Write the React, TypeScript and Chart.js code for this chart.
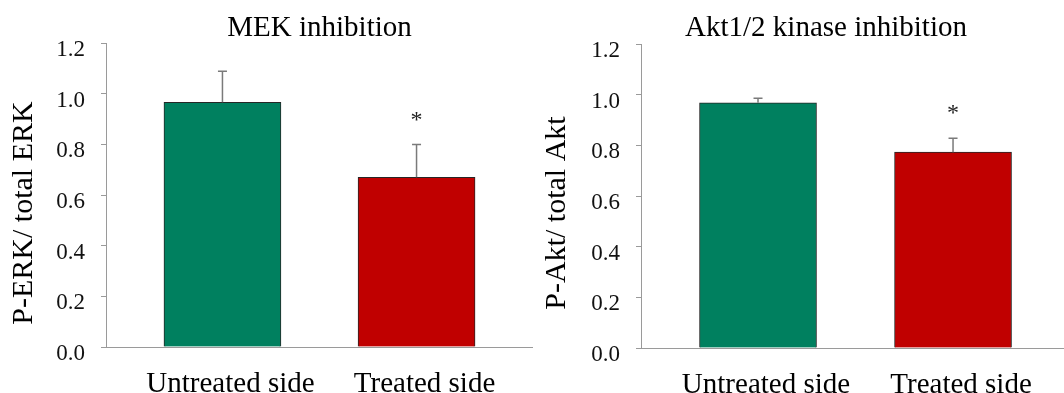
import React, { useEffect, useRef } from "react";
import { Chart, registerables } from "chart.js";

Chart.register(...registerables);

// ---------- data ----------
const categories = ["Untreated side", "Treated side"];
const yTicks = [0, 0.2, 0.4, 0.6, 0.8, 1.0, 1.2];
const barColors = ["#00805F", "#C00000"];

const mekTitle = "MEK inhibition";
const mekYTitle = "P-ERK/ total ERK";
const mekValues = [0.966, 0.67];
const mekErrors = [0.122, 0.129];
const mekSignificant = [false, true];

const aktTitle = "Akt1/2 kinase inhibition";
const aktYTitle = "P-Akt/ total Akt";
const aktValues = [0.968, 0.773];
const aktErrors = [0.018, 0.055];
const aktSignificant = [false, true];

const FONT = '"Liberation Serif", "Times New Roman", serif';

type PanelProps = {
  left: number;
  width: number;
  title: string;
  titleX: number;
  yTitle: string;
  values: number[];
  errors: number[];
  significant: boolean[];
  xMax: number;
  yAxisWidth: number;
  xAxisHeight: number;
  padTop: number;
};

function Panel(p: PanelProps) {
  const ref = useRef<HTMLCanvasElement | null>(null);

  useEffect(() => {
    const canvas = ref.current;
    if (!canvas) return;

    const decorate = {
      id: "decorate" + p.left,
      afterDatasetsDraw(chart: any) {
        const { ctx } = chart;
        const xs = chart.scales.x;
        const ys = chart.scales.y;
        p.values.forEach((v, i) => {
          const px = xs.getPixelForValue(i);
          const top = ys.getPixelForValue(v);
          const et = ys.getPixelForValue(v + p.errors[i]);
          ctx.save();
          ctx.strokeStyle = "#7a7a7a";
          ctx.lineWidth = 1.5;
          ctx.beginPath();
          ctx.moveTo(px, top);
          ctx.lineTo(px, et);
          ctx.moveTo(px - 4.5, et);
          ctx.lineTo(px + 4.5, et);
          ctx.stroke();
          if (p.significant[i]) {
            ctx.font = `24px ${FONT}`;
            ctx.textAlign = "center";
            ctx.textBaseline = "alphabetic";
            ctx.fillStyle = "#222";
            ctx.fillText("*", px, et - 30 + 12);
          }
          ctx.restore();
        });
      },
      afterDraw(chart: any) {
        const { ctx } = chart;
        ctx.save();
        ctx.fillStyle = "#000";
        ctx.font = `29px ${FONT}`;
        ctx.textAlign = "center";
        ctx.textBaseline = "alphabetic";
        ctx.fillText(p.title, p.titleX, 35.5);
        ctx.translate(24, 213);
        ctx.rotate(-Math.PI / 2);
        ctx.font = `30px ${FONT}`;
        ctx.textBaseline = "middle";
        ctx.fillText(p.yTitle, 0, 0);
        ctx.restore();
      },
    };

    const chart = new Chart(canvas, {
      type: "bar",
      data: {
        datasets: [
          {
            data: p.values.map((v, i) => ({ x: i, y: v })),
            backgroundColor: barColors,
            borderColor: "#262626",
            borderWidth: 1,
            barThickness: 117,
          },
        ],
      },
      options: {
        responsive: false,
        animation: false,
        devicePixelRatio: 1,
        events: [],
        layout: { padding: { top: p.padTop, left: 0, right: 0, bottom: 0 } },
        plugins: {
          legend: { display: false },
          tooltip: { enabled: false },
          title: { display: false },
        },
        scales: {
          x: {
            type: "linear",
            min: -0.6,
            max: p.xMax,
            offset: false,
            grid: { display: false },
            border: { display: true, color: "#9a9a9a", width: 1 },
            afterBuildTicks: (s: any) => {
              s.ticks = categories.map((_, i) => ({ value: i }));
            },
            afterFit: (s: any) => {
              s.height = p.xAxisHeight;
            },
            ticks: {
              autoSkip: false,
              maxRotation: 0,
              minRotation: 0,
              padding: 12,
              labelOffset: 8,
              color: "#000",
              font: { family: FONT, size: 29 },
              callback: (v: any) => categories[Math.round(Number(v))] ?? "",
            },
          },
          y: {
            type: "linear",
            min: 0,
            max: 1.2,
            grid: {
              display: true,
              drawOnChartArea: false,
              drawTicks: true,
              tickLength: 5,
              color: "#9a9a9a",
              lineWidth: 1,
            },
            border: { display: true, color: "#9a9a9a", width: 1 },
            afterBuildTicks: (s: any) => {
              s.ticks = yTicks.map((v) => ({ value: v }));
            },
            afterFit: (s: any) => {
              s.width = p.yAxisWidth;
            },
            ticks: {
              padding: 16,
              labelOffset: 7,
              color: "#111",
              font: { family: FONT, size: 23 },
              callback: (v: any) => Number(v).toFixed(1),
            },
          },
        },
      },
      plugins: [decorate],
    } as any);

    return () => chart.destroy();
  }, []);

  return (
    <canvas
      ref={ref}
      width={p.width}
      height={393}
      style={{ position: "absolute", left: p.left, top: 0, width: p.width, height: 393 }}
    />
  );
}

export default function App() {
  return (
    <div
      style={{
        position: "fixed",
        left: 0,
        top: 0,
        width: 1064,
        height: 393,
        background: "#fff",
        overflow: "hidden",
      }}
    >
      <Panel
        left={0}
        width={533}
        title={mekTitle}
        titleX={319.5}
        yTitle={mekYTitle}
        values={mekValues}
        errors={mekErrors}
        significant={mekSignificant}
        xMax={1.6}
        yAxisWidth={106}
        xAxisHeight={46}
        padTop={43}
      />
      <Panel
        left={533}
        width={531}
        title={aktTitle}
        titleX={293}
        yTitle={aktYTitle}
        values={aktValues}
        errors={aktErrors}
        significant={aktSignificant}
        xMax={1.569}
        yAxisWidth={108}
        xAxisHeight={45}
        padTop={44}
      />
    </div>
  );
}
